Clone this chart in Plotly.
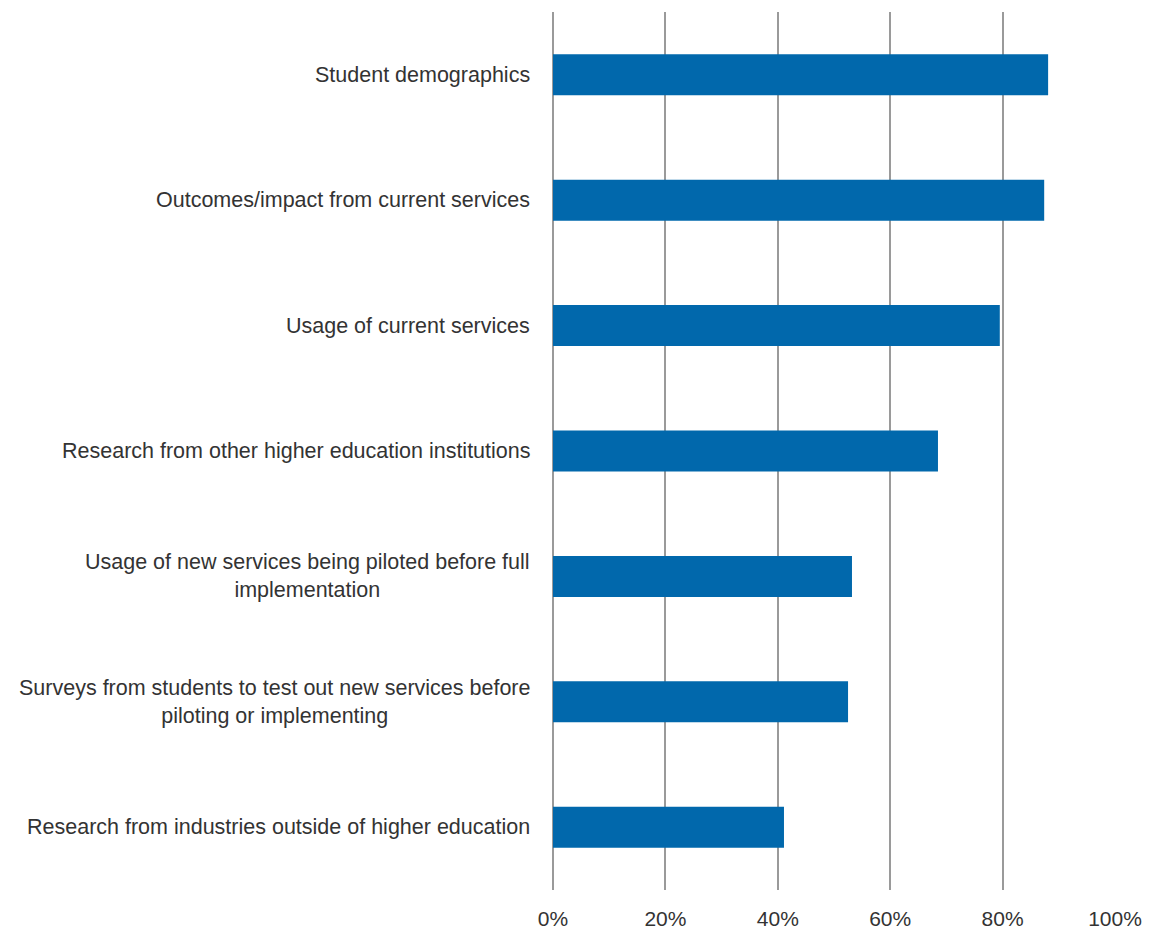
import plotly.graph_objects as go

# Data sources used, share of respondents
categories = [
    "Student demographics",
    "Outcomes/impact from current services",
    "Usage of current services",
    "Research from other higher education institutions",
    "Usage of new services being piloted before full<br>implementation",
    "Surveys from students to test out new services before<br>piloting or implementing",
    "Research from industries outside of higher education",
]
shares = [0.881, 0.874, 0.795, 0.685, 0.532, 0.525, 0.411]

tick_values = [0, 0.2, 0.4, 0.6, 0.8, 1.0]
tick_labels = ["0%", "20%", "40%", "60%", "80%", "100%"]

font_family = "Liberation Sans, Arial, sans-serif"
text_color = "#333333"
grid_color = "#9a9a9a"

fig = go.Figure(
    go.Bar(
        x=shares,
        y=categories,
        orientation="h",
        marker=dict(color="#0168AC", line=dict(width=0)),
        hoverinfo="x+y",
    )
)

# Category labels, centred line by line, to the left of the plot area
for cat in categories:
    fig.add_annotation(
        x=0, xref="paper", y=cat, yref="y",
        text=cat, showarrow=False,
        xanchor="right", yanchor="middle", align="center",
        xshift=-21,
        font=dict(family=font_family, size=21.5, color=text_color),
    )

fig.update_layout(
    width=1150, height=934,
    margin=dict(l=553, r=35, t=12, b=44, autoexpand=False),
    plot_bgcolor="white", paper_bgcolor="white",
    bargap=0.673,
    showlegend=False,
    font=dict(family=font_family, size=21, color=text_color),
)
fig.update_xaxes(
    range=[0, 1.0],
    tickvals=tick_values, ticktext=tick_labels,
    showgrid=True, gridcolor=grid_color, gridwidth=1.6,
    zeroline=True, zerolinecolor=grid_color, zerolinewidth=1.6,
    showline=False, automargin=False,
    ticks="outside", ticklen=10, tickcolor="rgba(0,0,0,0)",
    tickfont=dict(family=font_family, size=21, color=text_color),
    fixedrange=True,
)
fig.update_yaxes(
    autorange="reversed", automargin=False,
    showticklabels=False, showgrid=False, zeroline=False, showline=False,
    fixedrange=True,
)

fig.write_html("out.html")
